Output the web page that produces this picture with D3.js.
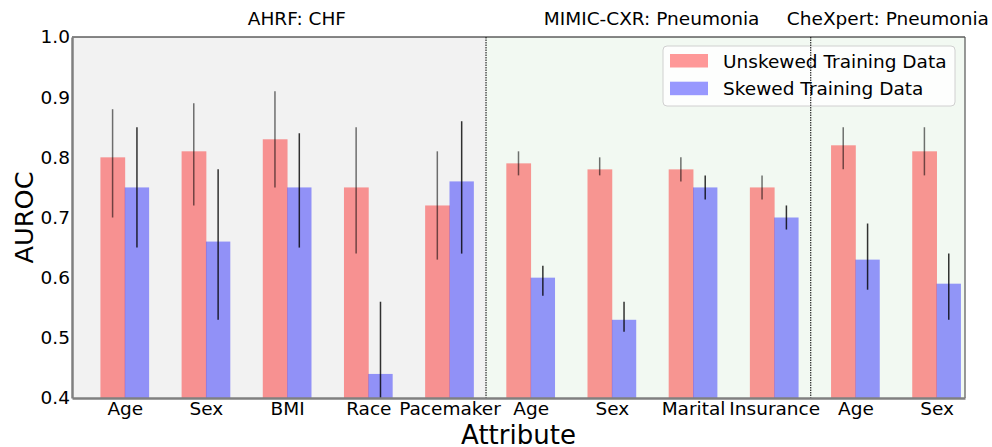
<!DOCTYPE html>
<html>
<head>
<meta charset="utf-8">
<script src="https://cdn.jsdelivr.net/npm/d3@7"></script>
<style>
  body { margin: 0; background: #fff; }
  text { font-family: "DejaVu Sans", sans-serif; fill: #000; }
</style>
</head>
<body>
<div id="app"></div>
<script>
// data
const groups = ["AHRF: CHF", "MIMIC-CXR: Pneumonia", "CheXpert: Pneumonia"];
const groupOf = [0, 0, 0, 0, 0, 1, 1, 1, 1, 2, 2];
const attributes = ["Age", "Sex", "BMI", "Race", "Pacemaker", "Age", "Sex", "Marital", "Insurance", "Age", "Sex"];
const unskewed = [0.80, 0.81, 0.83, 0.75, 0.72, 0.79, 0.78, 0.78, 0.75, 0.82, 0.81];
const unskewedLow = [0.70, 0.72, 0.75, 0.64, 0.63, 0.77, 0.77, 0.76, 0.73, 0.78, 0.77];
const unskewedHigh = [0.88, 0.89, 0.91, 0.85, 0.81, 0.81, 0.80, 0.80, 0.77, 0.85, 0.85];
const skewed = [0.75, 0.66, 0.75, 0.44, 0.76, 0.60, 0.53, 0.75, 0.70, 0.63, 0.59];
const skewedLow = [0.65, 0.53, 0.65, 0.32, 0.64, 0.57, 0.51, 0.73, 0.68, 0.58, 0.53];
const skewedHigh = [0.85, 0.78, 0.84, 0.56, 0.86, 0.62, 0.56, 0.77, 0.72, 0.69, 0.64];
const yTicks = [0.4, 0.5, 0.6, 0.7, 0.8, 0.9, 1.0];
const seriesNames = ["Unskewed Training Data", "Skewed Training Data"];

const width = 992,
  height = 447;
const margin = { top: 37, right: 27, bottom: 49, left: 72 };
const barW = 0.3;

const svg = d3
  .select("#app")
  .append("svg")
  .attr("width", width)
  .attr("height", height);

const x = d3
  .scaleLinear()
  .domain([-0.65, attributes.length - 0.65])
  .range([margin.left, width - margin.right]);

const y = d3
  .scaleLinear()
  .domain([0.4, 1.0])
  .range([height - margin.bottom, margin.top]);

svg
  .append("clipPath")
  .attr("id", "plot")
  .append("rect")
  .attr("x", x.range()[0])
  .attr("y", y.range()[1])
  .attr("width", x.range()[1] - x.range()[0])
  .attr("height", y.range()[0] - y.range()[1]);

// region edges: halfway between the last attribute of one group and the first of the next
const edges = [x.domain()[0]];
for (let i = 1; i < groupOf.length; i++) {
  if (groupOf[i] !== groupOf[i - 1]) edges.push(i - 0.55);
}
edges.push(x.domain()[1]);

const bgColors = ["#f2f2f2", "#f2f9f2", "#f2f9f2"];
svg
  .append("g")
  .selectAll("rect")
  .data(groups)
  .join("rect")
  .attr("x", (d, i) => x(edges[i]))
  .attr("y", y(1.0))
  .attr("width", (d, i) => x(edges[i + 1]) - x(edges[i]))
  .attr("height", y(0.4) - y(1.0))
  .attr("fill", (d, i) => bgColors[i]);

// group titles
const titleAt = [2.12, 6.49, 9.4];
svg
  .append("g")
  .selectAll("text")
  .data(groups)
  .join("text")
  .attr("x", (d, i) => x(titleAt[i]))
  .attr("y", 25)
  .attr("text-anchor", "middle")
  .style("font-size", "18.5px")
  .text((d) => d);

const plot = svg.append("g").attr("clip-path", "url(#plot)");

// bars
plot
  .append("g")
  .selectAll("rect")
  .data(unskewed)
  .join("rect")
  .attr("x", (d, i) => x(i - barW))
  .attr("y", (d) => y(d))
  .attr("width", x(barW) - x(0) + 0.4)
  .attr("height", (d) => y(0.4) - y(d))
  .attr("fill", "red")
  .attr("fill-opacity", 0.4);

plot
  .append("g")
  .selectAll("rect")
  .data(skewed)
  .join("rect")
  .attr("x", (d, i) => x(i))
  .attr("y", (d) => y(d))
  .attr("width", x(barW) - x(0))
  .attr("height", (d) => y(0.4) - y(d))
  .attr("fill", "blue")
  .attr("fill-opacity", 0.4);

// error bars
plot
  .append("g")
  .selectAll("line")
  .data(unskewed)
  .join("line")
  .attr("x1", (d, i) => x(i - barW / 2))
  .attr("x2", (d, i) => x(i - barW / 2))
  .attr("y1", (d, i) => y(unskewedLow[i]))
  .attr("y2", (d, i) => y(unskewedHigh[i]))
  .attr("stroke", "#000")
  .attr("stroke-opacity", 0.55)
  .attr("stroke-width", 1.5);

plot
  .append("g")
  .selectAll("line")
  .data(skewed)
  .join("line")
  .attr("x1", (d, i) => x(i + barW / 2))
  .attr("x2", (d, i) => x(i + barW / 2))
  .attr("y1", (d, i) => y(skewedLow[i]))
  .attr("y2", (d, i) => y(skewedHigh[i]))
  .attr("stroke", "#000")
  .attr("stroke-opacity", 0.8)
  .attr("stroke-width", 1.5);

// legend
const legend = svg.append("g").attr("transform", "translate(663,46)");
legend
  .append("rect")
  .attr("x", 0)
  .attr("y", 0)
  .attr("width", 292)
  .attr("height", 60)
  .attr("rx", 4)
  .attr("fill", "#fff")
  .attr("fill-opacity", 0.8)
  .attr("stroke", "#d0d0d0")
  .attr("stroke-width", 1);

const legendColors = ["red", "blue"];
legend
  .selectAll("g.item")
  .data(seriesNames)
  .join("g")
  .attr("class", "item")
  .attr("transform", (d, i) => "translate(7," + (8 + i * 27.7) + ")")
  .each(function (d, i) {
    const g = d3.select(this);
    g.append("rect")
      .attr("width", 38)
      .attr("height", 13.5)
      .attr("fill", legendColors[i])
      .attr("fill-opacity", 0.4);
    g.append("text")
      .attr("x", 53)
      .attr("y", 13.5)
      .style("font-size", "18.5px")
      .text(d);
  });

// dotted separators between datasets (drawn over the legend like the original)
svg
  .append("g")
  .selectAll("line")
  .data(edges.slice(1, -1))
  .join("line")
  .attr("x1", (d) => x(d))
  .attr("x2", (d) => x(d))
  .attr("y1", y(1.0))
  .attr("y2", y(0.4))
  .attr("stroke", "#000")
  .attr("stroke-width", 1)
  .attr("stroke-dasharray", "1.5,1");

// spines
svg
  .append("line")
  .attr("x1", x.range()[0])
  .attr("x2", x.range()[1])
  .attr("y1", y(1.0))
  .attr("y2", y(1.0))
  .attr("stroke", "#111")
  .attr("stroke-width", 1.2);
svg
  .append("line")
  .attr("x1", x.range()[1])
  .attr("x2", x.range()[1])
  .attr("y1", y(1.0))
  .attr("y2", y(0.4))
  .attr("stroke", "#555")
  .attr("stroke-width", 1.2);

// y axis
const yAxis = svg
  .append("g")
  .attr("transform", "translate(" + x.range()[0] + ",0)")
  .call(d3.axisLeft(y).tickValues(yTicks).tickFormat(d3.format(".1f")).tickSize(0).tickPadding(2));
yAxis.select(".domain").attr("stroke", "#808080").attr("stroke-width", 2.5);
yAxis.selectAll("text").style("font-size", "18.5px").style("font-family", "DejaVu Sans");

// x axis
const xAxis = svg
  .append("g")
  .attr("transform", "translate(0," + y(0.4) + ")")
  .call(
    d3
      .axisBottom(x)
      .tickValues(d3.range(attributes.length))
      .tickFormat((d) => attributes[d])
      .tickSize(0)
      .tickPadding(4)
  );
xAxis.select(".domain").attr("stroke", "#808080").attr("stroke-width", 2.5);
xAxis.selectAll("text").style("font-size", "18.5px").style("font-family", "DejaVu Sans");

// axis titles
svg
  .append("text")
  .attr("x", (x.range()[0] + x.range()[1]) / 2)
  .attr("y", 444)
  .attr("text-anchor", "middle")
  .style("font-size", "26px")
  .text("Attribute");

svg
  .append("text")
  .attr("transform", "translate(33," + (y(0.7)) + ") rotate(-90)")
  .attr("text-anchor", "middle")
  .style("font-size", "25.6px")
  .text("AUROC");
</script>
</body>
</html>
